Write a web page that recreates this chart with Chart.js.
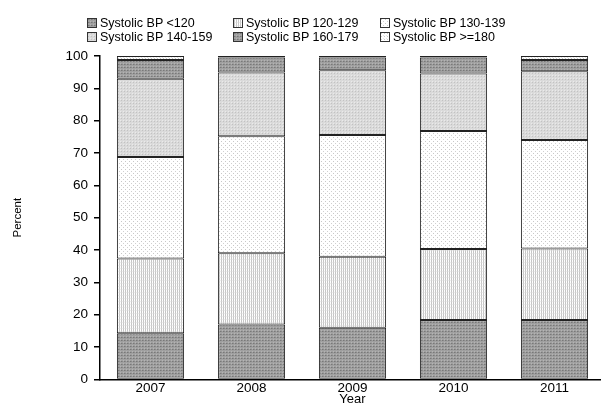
<!DOCTYPE html>
<html>
<head>
<meta charset="utf-8">
<script src="https://cdn.jsdelivr.net/npm/chart.js@4"></script>
<style>
  html, body { margin: 0; padding: 0; background: #fff; overflow: hidden; width: 601px; height: 403px; }
  #wrap { position: absolute; left: 0; top: 0; width: 606px; height: 403px; }
  #legend { position: absolute; left: 0; top: 0; width: 601px; height: 50px;
            font-family: "Liberation Sans", Arial, sans-serif; font-size: 12.5px; color: #000; }
  .item { position: absolute; height: 14px; line-height: 14px; white-space: nowrap; }
  .item canvas { position: absolute; left: 0; top: 2px; width: 10px; height: 10px; }
  .item span { position: absolute; left: 13px; top: 0; }
</style>
</head>
<body>
<div id="wrap"><canvas id="c" width="606" height="403"></canvas></div>
<div id="legend"></div>
<script>
// ---- data ----
const years = ["2007", "2008", "2009", "2010", "2011"];
const seriesLabels = ["Systolic BP <120", "Systolic BP 120-129", "Systolic BP 130-139",
                      "Systolic BP 140-159", "Systolic BP 160-179", "Systolic BP >=180"];
const bpUnder120 = [14.3, 17.0, 16.0, 18.4, 18.4];
const bp120to129 = [23.1, 22.0, 21.9, 21.9, 22.1];
const bp130to139 = [31.4, 36.2, 37.7, 36.5, 33.5];
const bp140to159 = [24.2, 19.7, 20.0, 17.8, 21.3];
const bp160to179 = [5.8, 4.6, 3.9, 4.9, 3.5];
const bp180plus  = [1.2, 0.5, 0.5, 0.5, 1.2];
const yTicks = [0, 10, 20, 30, 40, 50, 60, 70, 80, 90, 100];

// ---- patterns ----
function makePattern(w, h, base, dots) {
  const c = document.createElement('canvas');
  c.width = w; c.height = h;
  const x = c.getContext('2d');
  x.fillStyle = base; x.fillRect(0, 0, w, h);
  dots.forEach(d => { x.fillStyle = d[2]; x.fillRect(d[0], d[1], 1, 1); });
  return c;
}
const tiles = [
  makePattern(3, 3, '#a0a0a0', [[1,1,'#787878'],[0,0,'#b4b4b4'],[2,1,'#8a8a8a']]),
  makePattern(2, 3, '#ffffff', [[1,0,'#c6c6c6'],[1,1,'#cfcfcf'],[1,2,'#c6c6c6'],[0,1,'#eeeeee']]),
  makePattern(4, 4, '#ffffff', [[1,1,'#c8c8c8'],[3,3,'#d0d0d0']]),
  makePattern(3, 3, '#dadada', [[1,1,'#c2c2c2'],[0,0,'#eaeaea']]),
  makePattern(3, 3, '#a0a0a0', [[1,1,'#787878'],[0,0,'#b4b4b4'],[2,1,'#8a8a8a']]),
  makePattern(3, 3, '#ffffff', [[1,1,'#cacaca'],[0,0,'#e6e6e6']])
];
const ctx = document.getElementById('c').getContext('2d');
const fills = tiles.map(t => ctx.createPattern(t, 'repeat'));

// ---- legend (HTML) ----
const legendPos = [[87, 16], [233, 16], [380, 16], [87, 29.5], [233, 29.5], [380, 29.5]];
const legend = document.getElementById('legend');
seriesLabels.forEach((lab, i) => {
  const d = document.createElement('div');
  d.className = 'item';
  d.style.left = legendPos[i][0] + 'px';
  d.style.top = legendPos[i][1] + 'px';
  const sw = document.createElement('canvas');
  sw.width = 10; sw.height = 10;
  const sx = sw.getContext('2d');
  sx.fillStyle = sx.createPattern(tiles[i], 'repeat');
  sx.fillRect(0, 0, 10, 10);
  sx.strokeStyle = '#333'; sx.lineWidth = 1; sx.strokeRect(0.5, 0.5, 9, 9);
  const sp = document.createElement('span');
  sp.textContent = lab;
  d.appendChild(sw); d.appendChild(sp);
  legend.appendChild(d);
});

// ---- chart ----
const seriesData = [bpUnder120, bp120to129, bp130to139, bp140to159, bp160to179, bp180plus];
const datasets = seriesData.map((arr, i) => ({
  label: seriesLabels[i],
  data: arr,
  backgroundColor: fills[i],
  borderColor: '#222',
  borderWidth: 1,
  borderSkipped: false,
  categoryPercentage: 1.0,
  barPercentage: 0.665
}));

const font = { family: '"Liberation Sans", Arial, sans-serif', size: 13.5 };

new Chart(ctx, {
  type: 'bar',
  data: { labels: years, datasets: datasets },
  options: {
    responsive: false,
    animation: false,
    devicePixelRatio: 1,
    layout: { padding: { top: 56, right: 1, left: 0, bottom: 0 } },
    plugins: { legend: { display: false }, tooltip: { enabled: false }, title: { display: false } },
    scales: {
      x: {
        stacked: true,
        grid: { display: false, drawTicks: false },
        border: { display: true, color: '#000', width: 1.5 },
        ticks: { color: '#000', font: font, padding: 1, maxRotation: 0 },
        title: { display: true, text: 'Year', color: '#000', font: { family: font.family, size: 13 }, padding: { top: 0, bottom: -4 } },
        afterFit: s => { s.height = 23.6; }
      },
      y: {
        stacked: true,
        min: 0, max: 100,
        afterBuildTicks: s => { s.ticks = yTicks.map(v => ({ value: v })); },
        grid: { display: true, drawOnChartArea: false, drawTicks: true, tickLength: 6, color: '#000', lineWidth: 1.5 },
        border: { display: true, color: '#000', width: 1.5 },
        ticks: { color: '#000', font: font, padding: 6 },
        title: { display: true, text: 'Percent', color: '#000',
                 font: { family: font.family, size: 11.5 }, padding: { top: 11, bottom: 0 } },
        afterFit: s => { s.width = 100; }
      }
    }
  }
});
</script>
</body>
</html>
